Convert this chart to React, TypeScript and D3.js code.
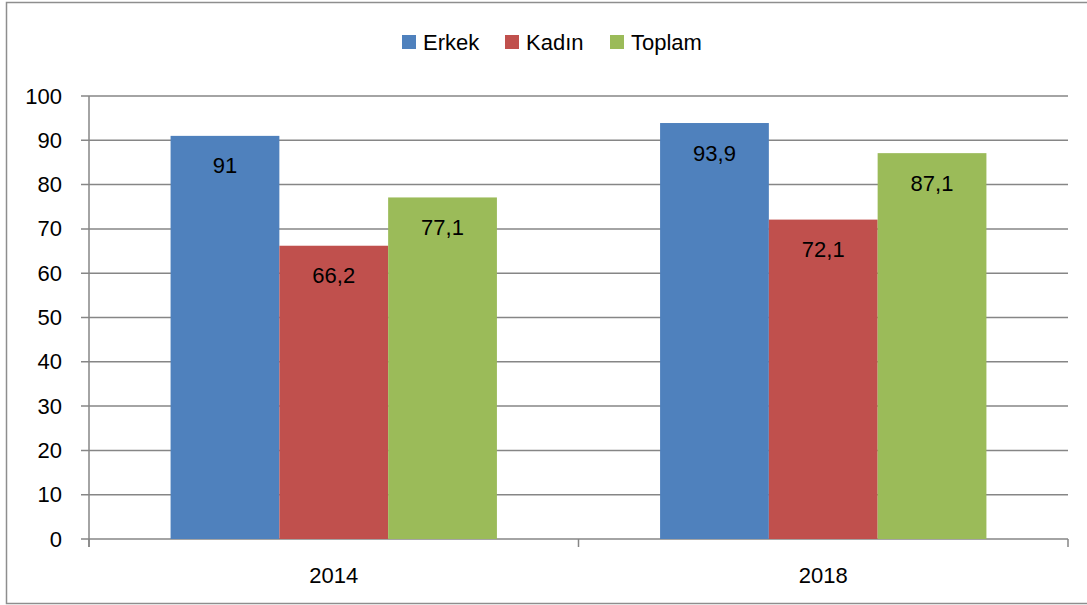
import React from "react";
import * as d3 from "d3";

const categories = ["2014", "2018"];
const seriesNames = ["Erkek", "Kadın", "Toplam"];
const erkek = [91, 93.9];
const kadin = [66.2, 72.1];
const toplam = [77.1, 87.1];
const seriesValues = [erkek, kadin, toplam];
const colors = ["#4F81BD", "#C0504D", "#9BBB59"];
const yTicks = [0, 10, 20, 30, 40, 50, 60, 70, 80, 90, 100];

const W = 1087;
const H = 605;
const left = 89;
const right = 1068;
const top = 96;
const bottom = 539;
const font = "'Liberation Sans', Arial, sans-serif";
const fs = 22;

export default function App() {
  const x0 = d3.scaleBand().domain(categories).range([left, right]).paddingInner(0).paddingOuter(0);
  const bw = x0.bandwidth() / (3 + 1.5);
  const y = d3.scaleLinear().domain([0, 100]).range([bottom, top]);
  const fmt = (v: number) => String(v).replace(".", ",");
  const legendX = [402, 505, 610];

  return (
    <svg width={W} height={H} style={{ position: "absolute", left: 0, top: 0 }} fontFamily={font}>
      <rect x={0} y={0} width={W} height={H} fill="#fff" />
      <rect x={6.5} y={2.5} width={W + 10} height={601} fill="none" stroke="#8e8e8e" strokeWidth={1.5} />
      {yTicks.map((t) => (
        <g key={t}>
          <line x1={81} x2={right} y1={y(t)} y2={y(t)} stroke="#868686" strokeWidth={1.5} />
          <text x={62} y={y(t)} textAnchor="end" dominantBaseline="central" fontSize={fs} fill="#000">
            {t}
          </text>
        </g>
      ))}
      <line x1={left} x2={left} y1={top} y2={547} stroke="#868686" strokeWidth={1.5} />
      {[left, left + x0.bandwidth(), right].map((xx, i) => (
        <line key={i} x1={xx} x2={xx} y1={bottom} y2={547} stroke="#868686" strokeWidth={1.5} />
      ))}
      {categories.map((c, ci) => (
        <g key={c}>
          {seriesValues.map((vals, si) => {
            const bx = (x0(c) as number) + bw * 0.75 + si * bw;
            const v = vals[ci];
            return (
              <g key={si}>
                <rect x={bx} y={y(v)} width={bw} height={bottom - y(v)} fill={colors[si]} />
                <text x={bx + bw / 2} y={y(v) + 30} textAnchor="middle" dominantBaseline="central" fontSize={fs} fill="#000">
                  {fmt(v)}
                </text>
              </g>
            );
          })}
          <text x={(x0(c) as number) + x0.bandwidth() / 2} y={575} textAnchor="middle" dominantBaseline="central" fontSize={fs} fill="#000">
            {c}
          </text>
        </g>
      ))}
      {seriesNames.map((n, i) => (
        <g key={n}>
          <rect x={legendX[i]} y={35} width={14} height={14} fill={colors[i]} />
          <text x={legendX[i] + 21} y={42} dominantBaseline="central" fontSize={fs} fill="#000">
            {n}
          </text>
        </g>
      ))}
    </svg>
  );
}
